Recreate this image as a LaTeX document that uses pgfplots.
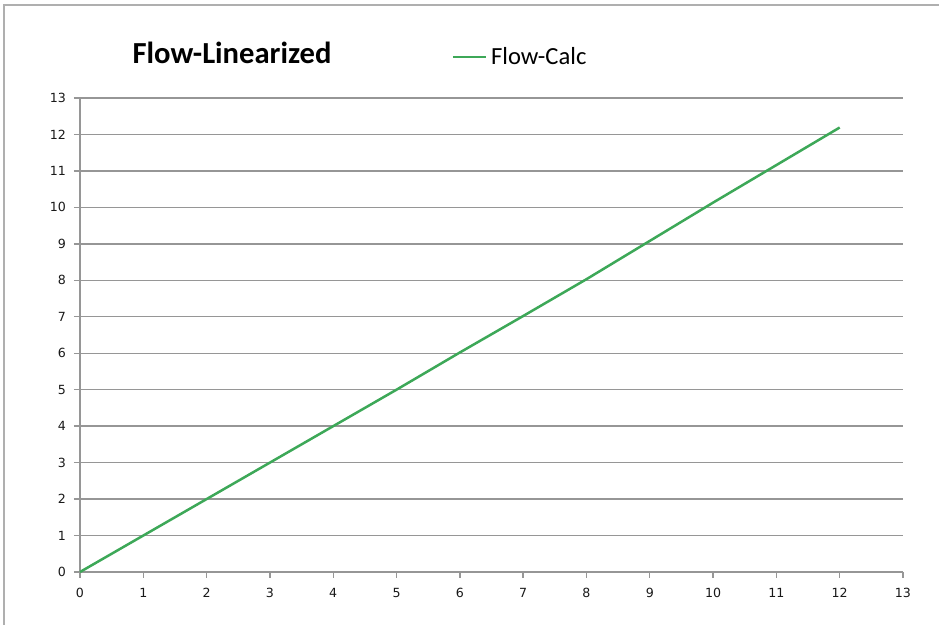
\documentclass[border=0pt]{standalone}
\usepackage{fontspec}
\setmainfont{Carlito}
\newfontfamily\tickfont{DejaVu Sans}
\usepackage{pgfplots}
\pgfplotsset{compat=1.18}
\definecolor{linegreen}{RGB}{61,168,88}
\definecolor{gridgray}{RGB}{150,150,150}
\definecolor{bordergray}{RGB}{175,175,175}
\begin{document}
\begin{tikzpicture}
\useasboundingbox (0,0) rectangle (469.5pt,312.5pt);
\draw[bordergray, line width=0.6pt] (2pt,0) -- (2pt,310pt) -- (469.5pt,310pt);
\begin{axis}[
  at={(40pt,26.5pt)}, anchor=south west,
  scale only axis, width=411.5pt, height=237pt,
  xmin=0, xmax=13, ymin=0, ymax=13,
  xtick={0,...,13}, ytick={0,...,13},
  axis x line=bottom, axis y line=left,
  axis line style={gridgray, line width=0.7pt, -},
  tick style={gridgray, line width=0.7pt},
  tick align=outside, major tick length=3pt,
  ymajorgrids, grid style={gridgray, line width=0.7pt},
  tick label style={font=\tickfont\fontsize{6.3}{7}\selectfont, text=black!90},
  /pgf/number format/assume math mode=true,
  xticklabel style={yshift=-1.5pt},
  yticklabel style={xshift=-0.5pt},
  legend style={at={(axis description cs:0.451,1.0865)}, anchor=west, draw=none, fill=none, inner sep=0pt, font=\fontsize{12.3}{14}\selectfont},
  legend image code/.code={\draw[#1, line width=1.25pt] (0pt,0pt) -- (16.5pt,0pt);},
  legend cell align=left,
  clip=false,
]
\addplot[linegreen, line width=1.25pt] coordinates {
(0,0) (1,1) (2,2) (3,3) (4,4) (5,5) (6,6.02) (7,7.02) (8,8.03) (9,9.08) (10,10.13) (11,11.16) (12,12.19)
};
\addlegendentry{Flow-Calc}
\node[font=\bfseries\fontsize{15.3}{18}\selectfont, anchor=center] at (axis description cs:0.1847,1.095) {Flow-Linearized};
\end{axis}
\end{tikzpicture}
\end{document}
